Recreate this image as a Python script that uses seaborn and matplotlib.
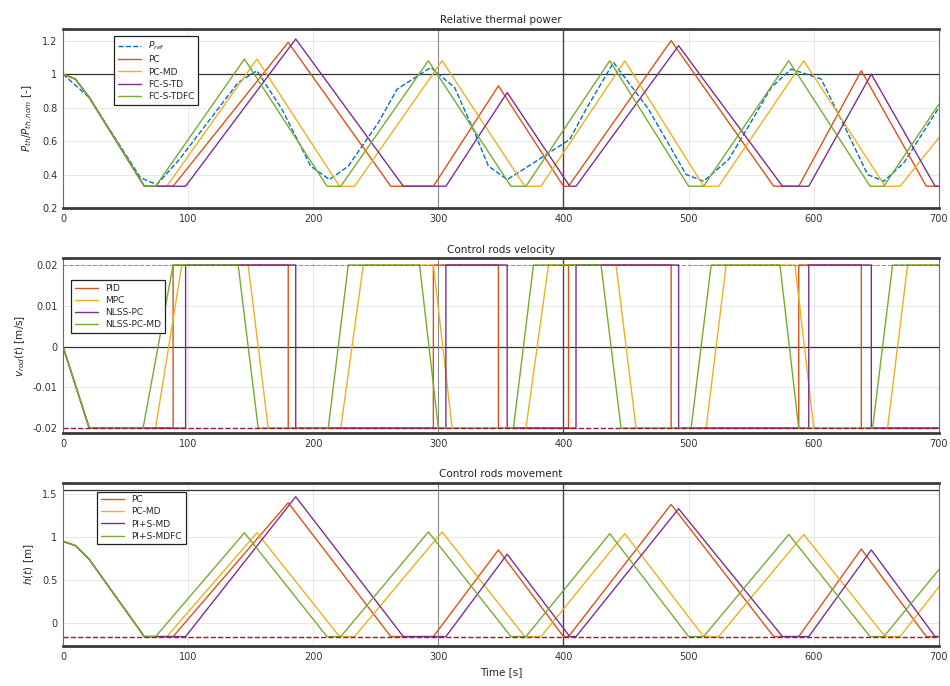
import matplotlib
matplotlib.use("Agg")
import matplotlib.pyplot as plt
from matplotlib.lines import Line2D
import numpy as np
import pandas as pd
import seaborn as sns

# ---------------- data ----------------
time_ticks = [0, 100, 200, 300, 400, 500, 600, 700]

# Reference thermal power
pref_t = [0, 21, 62, 75, 93, 140, 155, 175, 198, 213, 228, 252, 267, 294, 313, 329, 340, 355,
          372, 405, 418, 440, 468, 498, 512, 532, 548, 566, 582, 606, 627, 643, 656, 672, 700]
pref_p = [1.0, 0.86, 0.38, 0.34, 0.49, 0.95, 1.02, 0.79, 0.45, 0.37, 0.45, 0.71, 0.91, 1.04, 0.92,
          0.65, 0.45, 0.37, 0.45, 0.61, 0.79, 1.07, 0.79, 0.40, 0.36, 0.49, 0.69, 0.92, 1.03, 0.97,
          0.65, 0.40, 0.36, 0.47, 0.80]

# Turning-point times of the rod trajectory for each controller
pc_t = [0, 10, 21, 65, 88, 180, 262, 296, 348, 400, 404, 486, 568, 588, 638, 690, 700]
pcmd_t = [0, 10, 21, 65, 83, 155, 221, 233, 303, 369, 382, 449, 512, 524, 592, 657, 669, 700]
fcs_t = [0, 10, 21, 65, 98, 186, 272, 306, 355, 405, 410, 492, 575, 596, 646, 697, 700]
fcsfc_t = [0, 10, 21, 65, 74, 145, 211, 222, 292, 358, 370, 437, 500, 512, 580, 645, 656, 700]

# Relative thermal power at those times
pc_p = [1.0, 0.97, 0.86, 0.33, 0.33, 1.19, 0.33, 0.33, 0.93, 0.33, 0.33, 1.20, 0.33, 0.33, 1.02, 0.33, 0.33]
pcmd_p = [1.0, 0.97, 0.86, 0.33, 0.33, 1.09, 0.33, 0.33, 1.08, 0.33, 0.33, 1.08, 0.33, 0.33, 1.08, 0.33, 0.33, 0.62]
fcs_p = [1.0, 0.97, 0.86, 0.33, 0.33, 1.21, 0.33, 0.33, 0.89, 0.33, 0.33, 1.17, 0.33, 0.33, 1.00, 0.33, 0.33]
fcsfc_p = [1.0, 0.97, 0.86, 0.33, 0.33, 1.09, 0.33, 0.33, 1.08, 0.33, 0.33, 1.08, 0.33, 0.33, 1.08, 0.33, 0.33, 0.82]

# Control rod position at those times
pc_h = [0.95, 0.90, 0.74, -0.16, -0.16, 1.40, -0.16, -0.16, 0.85, -0.16, -0.16, 1.38, -0.16, -0.16, 0.86, -0.16, -0.16]
pcmd_h = [0.95, 0.90, 0.74, -0.16, -0.16, 1.05, -0.16, -0.16, 1.06, -0.16, -0.16, 1.04, -0.16, -0.16, 1.03, -0.16, -0.16, 0.42]
fcs_h = [0.95, 0.90, 0.74, -0.16, -0.16, 1.47, -0.16, -0.16, 0.80, -0.16, -0.16, 1.33, -0.16, -0.16, 0.85, -0.16, -0.16]
fcsfc_h = [0.95, 0.90, 0.74, -0.16, -0.16, 1.05, -0.16, -0.16, 1.06, -0.16, -0.16, 1.04, -0.16, -0.16, 1.03, -0.16, -0.16, 0.62]

# Control rod velocity
pc_vt = [0, 21, 88, 88, 180, 180, 296, 296, 348, 348, 404, 404, 486, 486, 588, 588, 638, 638, 700]
pc_v = [0, -0.02, -0.02, 0.02, 0.02, -0.02, -0.02, 0.02, 0.02, -0.02, -0.02, 0.02, 0.02, -0.02,
        -0.02, 0.02, 0.02, -0.02, -0.02]
mpc_vt = [0, 21, 74, 95, 148, 164, 222, 240, 296, 311, 370, 388, 442, 458, 514, 530, 585, 600, 659, 675, 700]
mpc_v = [0, -0.02, -0.02, 0.02, 0.02, -0.02, -0.02, 0.02, 0.02, -0.02, -0.02, 0.02, 0.02, -0.02,
         -0.02, 0.02, 0.02, -0.02, -0.02, 0.02, 0.02]
nlss_vt = [0, 21, 98, 98, 186, 186, 306, 306, 355, 355, 410, 410, 492, 492, 596, 596, 646, 646, 700]
nlss_v = [0, -0.02, -0.02, 0.02, 0.02, -0.02, -0.02, 0.02, 0.02, -0.02, -0.02, 0.02, 0.02, -0.02,
          -0.02, 0.02, 0.02, -0.02, -0.02]
nlssmd_vt = [0, 21, 64, 88, 140, 156, 212, 228, 285, 300, 360, 376, 430, 446, 502, 518, 573, 588, 647, 663, 700]
nlssmd_v = [0, -0.02, -0.02, 0.02, 0.02, -0.02, -0.02, 0.02, 0.02, -0.02, -0.02, 0.02, 0.02, -0.02,
            -0.02, 0.02, 0.02, -0.02, -0.02, 0.02, 0.02]

v_max = 0.02
h_max = 1.55
h_min = -0.16

labels_top = ["PC", "PC-MD", "FC-S-TD", "FC-S-TDFC"]
labels_mid = ["PID", "MPC", "NLSS-PC", "NLSS-PC-MD"]
labels_bot = ["PC", "PC-MD", "PI+S-MD", "PI+S-MDFC"]

colors = ["#D95319", "#EDB120", "#7E2F8E", "#77AC30"]
ref_color = "#0072BD"
limit_color = "#A2142F"


def long_frame(ts, vs, names):
    parts = []
    for t, v, n in zip(ts, vs, names):
        parts.append(pd.DataFrame({"t": t, "val": v, "series": n}))
    return pd.concat(parts, ignore_index=True)


df_top = long_frame([pc_t, pcmd_t, fcs_t, fcsfc_t], [pc_p, pcmd_p, fcs_p, fcsfc_p], labels_top)
df_ref = pd.DataFrame({"t": pref_t, "val": pref_p})
df_mid = long_frame([pc_vt, mpc_vt, nlss_vt, nlssmd_vt], [pc_v, mpc_v, nlss_v, nlssmd_v], labels_mid)
df_bot = long_frame([pc_t, pcmd_t, fcs_t, fcsfc_t], [pc_h, pcmd_h, fcs_h, fcsfc_h], labels_bot)

# ---------------- figure ----------------
sns.set_style("white")
plt.rcParams["font.family"] = ["DejaVu Sans"]

fig = plt.figure(figsize=(9.5, 6.86), dpi=100)
ax1 = fig.add_axes([0.0663, 0.6968, 0.922, 0.261])
ax2 = fig.add_axes([0.0663, 0.3688, 0.922, 0.255])
ax3 = fig.add_axes([0.0663, 0.0583, 0.922, 0.2376])


def style_axes(ax):
    ax.set_xlim(0, 700)
    ax.set_xticks(time_ticks)
    ax.grid(True, color="#e4e4e4", linewidth=0.6)
    ax.set_axisbelow(True)
    for side in ("top", "bottom"):
        ax.spines[side].set_linewidth(2.0)
        ax.spines[side].set_color("#3a3a3a")
    for side in ("left", "right"):
        ax.spines[side].set_linewidth(0.8)
        ax.spines[side].set_color("#6a6a6a")
    ax.tick_params(axis="both", length=0, labelsize=7, colors="#333333", pad=4)
    ax.axvline(300, color="#8a8a8a", linewidth=0.8, zorder=1)
    ax.axvline(400, color="#444444", linewidth=1.0, zorder=1)
    ax.set_xlabel("")
    ax.set_ylabel("")


def add_legend(ax, handles, bbox):
    leg = ax.legend(handles=handles, loc="upper left", bbox_to_anchor=bbox, fontsize=6.5,
                    frameon=True, fancybox=False, edgecolor="#222222", framealpha=1,
                    handlelength=2.6, borderpad=0.4, labelspacing=0.35)
    leg.get_frame().set_linewidth(0.9)


# --- relative thermal power ---
sns.lineplot(data=df_ref, x="t", y="val", ax=ax1, color=ref_color, linestyle="--",
             linewidth=1.0, estimator=None, sort=False, legend=False)
sns.lineplot(data=df_top, x="t", y="val", hue="series", palette=colors, ax=ax1,
             linewidth=1.0, estimator=None, sort=False, legend=False)
ax1.axhline(1.0, color="#333333", linewidth=0.9, zorder=1)
style_axes(ax1)
ax1.set_ylim(0.2, 1.27)
ax1.set_yticks([0.2, 0.4, 0.6, 0.8, 1.0, 1.2])
ax1.set_yticklabels(["0.2", "0.4", "0.6", "0.8", "1", "1.2"])
ax1.set_title("Relative thermal power", fontsize=7.5, pad=4)
ax1.set_ylabel("$P_{th}/P_{th,nom}$ [-]", fontsize=7.5)
h1 = [Line2D([], [], color=ref_color, linestyle="--", lw=1.0, label="$P_{ref}$")]
h1 += [Line2D([], [], color=c, lw=1.0, label=l) for c, l in zip(colors, labels_top)]
add_legend(ax1, h1, (0.053, 0.985))

# --- control rods velocity ---
sns.lineplot(data=df_mid, x="t", y="val", hue="series", palette=colors, ax=ax2,
             linewidth=1.0, estimator=None, sort=False, legend=False)
ax2.axhline(0.0, color="#333333", linewidth=0.9, zorder=1)
ax2.axhline(-v_max, color=limit_color, linestyle="--", linewidth=1.0, zorder=3)
ax2.axhline(v_max, color=limit_color, linestyle="--", linewidth=0.8, alpha=0.5, zorder=3)
style_axes(ax2)
ax2.set_ylim(-0.0212, 0.0217)
ax2.set_yticks([-0.02, -0.01, 0, 0.01, 0.02])
ax2.set_yticklabels(["-0.02", "-0.01", "0", "0.01", "0.02"])
ax2.set_title("Control rods velocity", fontsize=7.5, pad=4)
ax2.set_ylabel("$v_{rod}(t)$ [m/s]", fontsize=7.5)
h2 = [Line2D([], [], color=c, lw=1.0, label=l) for c, l in zip(colors, labels_mid)]
add_legend(ax2, h2, (0.004, 0.90))

# --- control rods movement ---
sns.lineplot(data=df_bot, x="t", y="val", hue="series", palette=colors, ax=ax3,
             linewidth=1.0, estimator=None, sort=False, legend=False)
ax3.axhline(h_max, color="#333333", linewidth=0.9, zorder=1)
ax3.axhline(h_min, color=limit_color, linestyle="--", linewidth=1.0, zorder=3)
style_axes(ax3)
ax3.set_ylim(-0.27, 1.63)
ax3.set_yticks([0, 0.5, 1, 1.5])
ax3.set_yticklabels(["0", "0.5", "1", "1.5"])
ax3.set_title("Control rods movement", fontsize=7.5, pad=4)
ax3.set_ylabel("$h(t)$ [m]", fontsize=7.5)
ax3.set_xlabel("Time [s]", fontsize=7.5)
h3 = [Line2D([], [], color=c, lw=1.0, label=l) for c, l in zip(colors, labels_bot)]
add_legend(ax3, h3, (0.034, 0.975))

fig.savefig("out.png", dpi=100)
